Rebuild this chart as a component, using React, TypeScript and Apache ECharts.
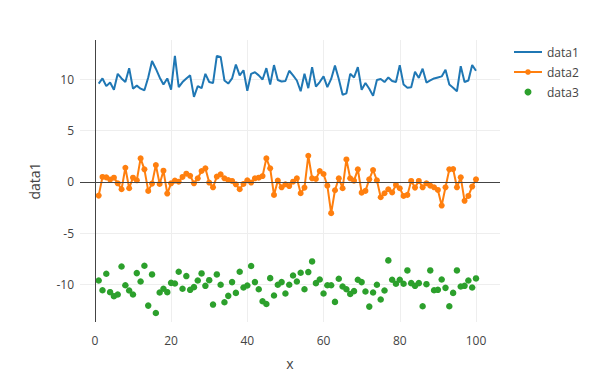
import React, { useEffect, useRef } from "react";
import * as echarts from "echarts";

const xValues: number[] = Array.from({ length: 100 }, (_, i) => i + 1);

const data1: number[] = [
  9.6, 10.1, 9.35, 9.7, 9.0, 10.55, 10.1, 9.75, 11.1, 9.1,
  9.4, 9.1, 8.95, 10.2, 11.8, 11.05, 10.2, 9.5, 10.1, 9.0,
  12.3, 9.25, 9.75, 10.1, 10.4, 8.3, 9.35, 9.15, 10.55, 9.75,
  9.65, 12.3, 12.2, 9.9, 9.6, 10.1, 11.45, 10.4, 10.9, 8.9,
  10.55, 10.7, 10.4, 10.0, 11.1, 9.5, 11.4, 9.95, 9.8, 9.85,
  10.85, 10.4, 9.9, 8.85, 10.55, 9.15, 11.2, 9.3, 9.75, 10.3,
  9.25, 10.05, 11.35, 10.05, 8.5, 8.65, 10.55, 10.2, 11.2, 9.0,
  9.65, 9.1, 8.4, 9.95, 10.05, 9.75, 10.2, 9.85, 9.75, 11.4,
  9.5, 9.2, 9.25, 10.75, 10.15, 11.05, 9.7, 9.9, 10.1, 10.2,
  10.3, 10.95, 9.5, 9.2, 8.85, 11.3, 9.75, 9.9, 11.4, 10.85,
];

const data2: number[] = [
  -1.33, 0.49, 0.45, 0.23, 0.42, -0.13, -0.71, 1.39, -0.61, 0.42,
  0.16, 2.3, 1.23, -0.87, -0.16, 1.65, -0.19, 1.1, -1.13, -0.13,
  0.13, 0.03, 0.49, 0.81, 0.6, -0.13, 0.36, 1.07, 1.33, -0.06,
  -0.52, 0.52, 0.74, 0.36, 0.19, 0.1, -0.23, -0.71, -0.19, 0.16,
  -0.06, 0.36, 0.42, 0.58, 2.3, 1.33, -1.26, 0.13, -0.52, -0.23,
  -0.4, 0.03, 0.36, -1.1, -0.55, 2.56, 0.36, 0.29, 1.07, 0.78,
  -0.36, -3.04, -0.81, 0.36, -0.61, 2.2, 0.36, 0.13, 1.23, -1.04,
  -0.87, 0.26, 1.17, 0.16, -1.49, -1.1, -0.71, -1.02, -0.29, -0.61,
  -1.36, -1.26, 0.1, -0.55, 0.1, -0.52, -0.13, -0.36, -0.52, -0.78,
  -2.3, -0.52, 1.23, 1.26, -0.52, 0.45, -1.84, -1.36, -0.45, 0.26,
];

const data3: number[] = [
  -9.61, -10.56, -8.95, -10.75, -11.14, -10.98, -8.24, -10.07, -10.59, -10.98,
  -8.89, -9.71, -8.17, -12.06, -9.02, -12.78, -10.78, -10.42, -10.75, -9.84,
  -9.9, -8.76, -10.42, -9.18, -10.52, -10.26, -9.61, -8.92, -10.13, -9.58,
  -11.96, -9.02, -10.03, -11.73, -11.11, -9.77, -10.82, -8.76, -10.29, -10.1,
  -8.2, -9.77, -10.46, -11.63, -11.9, -9.38, -11.08, -10.03, -9.77, -10.88,
  -10.03, -9.12, -9.71, -8.86, -10.46, -8.79, -7.75, -9.87, -9.51, -10.88,
  -10.07, -10.07, -11.7, -9.44, -10.2, -10.46, -10.92, -10.65, -9.54, -9.77,
  -10.69, -12.16, -10.78, -10.03, -11.47, -10.59, -7.65, -9.54, -9.93, -9.54,
  -9.93, -8.63, -9.87, -10.13, -9.87, -12.12, -9.97, -8.63, -10.56, -10.52,
  -9.51, -10.33, -12.12, -10.82, -8.63, -10.2, -10.13, -9.61, -10.29, -9.41,
];

const xTicks: number[] = [0, 20, 40, 60, 80, 100];
const yTicks: number[] = [-10, -5, 0, 5, 10];
const seriesNames: string[] = ["data1", "data2", "data3"];
const colors: string[] = ["#1f77b4", "#ff7f0e", "#2ca02c"];

const pair = (ys: number[]) => xValues.map((x, i) => [x, ys[i]]);

export default function App() {
  const ref = useRef<HTMLDivElement>(null);
  useEffect(() => {
    if (!ref.current) return;
    const chart = echarts.init(ref.current, undefined, { renderer: "svg" });
    const font = "'Open Sans', 'Noto Sans', sans-serif";
    chart.setOption({
      animation: false,
      textStyle: { fontFamily: font },
      color: colors,
      grid: { left: 80, right: 112, top: 40, bottom: 62, containLabel: false },
      legend: {
        data: [
          { name: seriesNames[0], icon: "path://M0,0L28,0L28,2L0,2Z" },
          { name: seriesNames[1] },
          { name: seriesNames[2] },
        ],
        orient: "vertical",
        left: 513,
        top: 45,
        padding: 0,
        itemWidth: 28,
        itemHeight: 7,
        itemGap: 6,
        textStyle: { fontSize: 12, color: "#444", fontFamily: font, lineHeight: 14 },
      },
      xAxis: {
        type: "value",
        min: -3.9,
        max: 106.3,
        name: "x",
        nameLocation: "middle",
        nameGap: 34,
        nameTextStyle: { fontSize: 14, color: "#444", fontFamily: font },
        axisLine: { show: false },
        axisTick: { show: false, customValues: xTicks },
        axisLabel: { customValues: xTicks, color: "#444", fontSize: 12, margin: 12, fontFamily: font },
        splitLine: { show: true, lineStyle: { color: "#eee", width: 1 } },
      },
      yAxis: {
        type: "value",
        min: -13.66,
        max: 13.85,
        name: "data1",
        nameLocation: "middle",
        nameGap: 39,
        nameRotate: 90,
        nameTextStyle: { fontSize: 14, color: "#444", fontFamily: font },
        axisLine: { show: false },
        axisTick: { show: false, customValues: yTicks },
        axisLabel: { customValues: yTicks, color: "#444", fontSize: 12, margin: 6, fontFamily: font },
        splitLine: { show: true, lineStyle: { color: "#eee", width: 1 } },
      },
      series: [
        {
          name: "zero",
          type: "line",
          data: [],
          z: 1,
          silent: true,
          markLine: {
            silent: true,
            symbol: ["none", "none"],
            label: { show: false },
            lineStyle: { color: "#444", width: 1, type: "solid" },
            data: [{ yAxis: 0 }, { xAxis: 0 }],
          },
        },
        {
          name: "data1",
          type: "line",
          data: pair(data1),
          symbol: "none",
          lineStyle: { width: 2, color: colors[0] },
          itemStyle: { color: colors[0] },
          z: 3,
        },
        {
          name: "data2",
          type: "line",
          data: pair(data2),
          symbol: "circle",
          symbolSize: 6,
          showSymbol: true,
          lineStyle: { width: 2, color: colors[1] },
          itemStyle: { color: colors[1] },
          z: 3,
        },
        {
          name: "data3",
          type: "scatter",
          data: pair(data3),
          symbol: "circle",
          symbolSize: 6.5,
          itemStyle: { color: colors[2], opacity: 1 },
          z: 3,
        },
      ],
    });
    return () => chart.dispose();
  }, []);
  return (
    <div
      ref={ref}
      style={{ position: "absolute", left: 0, top: 0, width: 612, height: 384 }}
    />
  );
}
